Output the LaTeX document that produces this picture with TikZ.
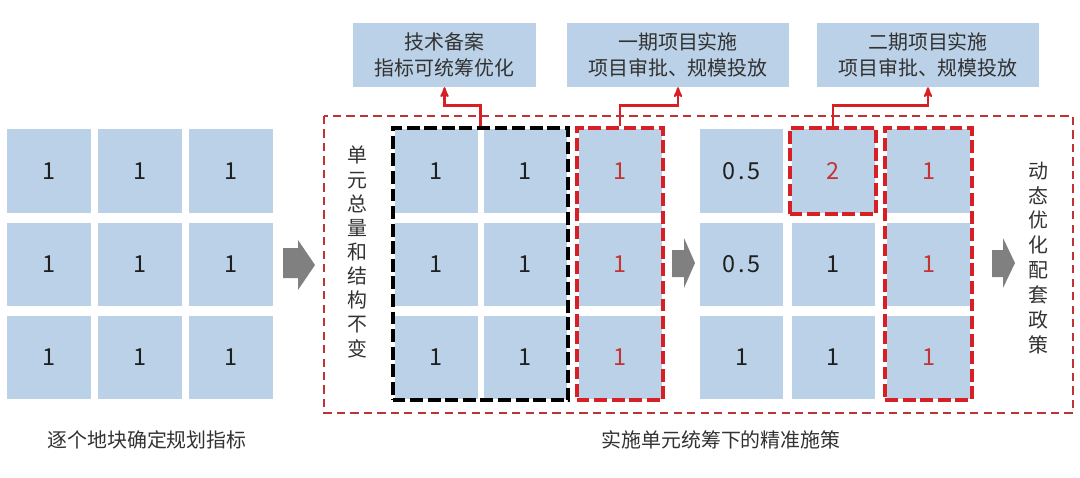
\documentclass[tikz,border=0pt]{standalone}
\usepackage{fontspec}
\setmainfont{Noto Sans CJK SC}
\usepackage{tikz}
\usetikzlibrary{arrows,fit}

\definecolor{cellblue}{RGB}{186,209,231}
\definecolor{hintred}{RGB}{214,32,38}
\definecolor{framered}{RGB}{188,52,52}
\definecolor{digitred}{RGB}{196,52,52}
\definecolor{textgray}{RGB}{50,50,50}
\definecolor{arrowgray}{RGB}{128,128,128}

\begin{document}
\begin{tikzpicture}[x=0.03cm,y=-0.03cm,node distance=2.79cm,>=stealth']
            \tikzstyle{plot}=[rectangle,fill=cellblue,minimum size=2.49cm,inner sep=0pt,text=black!88,font=\fontsize{20}{24}\selectfont]
            \tikzstyle{hot}=[plot,text=digitred]
            \tikzstyle{note}=[rectangle,fill=cellblue,minimum height=1.92cm,inner sep=0pt,align=center,text=textgray,font=\fontsize{17}{22}\selectfont]
            \tikzstyle{vtext}=[align=center,inner sep=0pt,text=textgray]
            \tikzstyle{caption}=[inner sep=0pt,text=textgray,font=\fontsize{17}{20}\selectfont]
            \tikzstyle{blackbox}=[draw=black,line width=3.5pt,dash pattern=on 11pt off 4pt,inner sep=0.05cm]
            \tikzstyle{redbox}=[blackbox,draw=hintred]
            \tikzstyle{link}=[draw=hintred,line width=1.8pt,->]
            \useasboundingbox (0,0) rectangle (1080,478);
            % left: plots one by one
            \node[plot](a11) at (49,171){1};
            \node[plot,below of=a11](a21){1};
            \node[plot,below of=a21](a31){1};
            \node[plot](a12) at (140,171){1};
            \node[plot,below of=a12](a22){1};
            \node[plot,below of=a22](a32){1};
            \node[plot](a13) at (231,171){1};
            \node[plot,below of=a13](a23){1};
            \node[plot,below of=a23](a33){1};
            \node[caption](leftcap) at (147,440){逐个地块确定规划指标};
            \fill[arrowgray] (283,248) -- (298,248) -- (298,240) -- (315,265) -- (298,290) -- (298,278) -- (283,278) -- cycle;
            % unit frame
            \draw[framered,line width=1.3pt,dash pattern=on 7pt off 4.5pt] (324,116) rectangle (1073,413);
            \node[vtext,font=\fontsize{17}{20.6}\selectfont](keep) at (357,252){单\\元\\总\\量\\和\\结\\构\\不\\变};
            % stage one
            \node[plot](b11) at (436,171){1};
            \node[plot,below of=b11](b21){1};
            \node[plot,below of=b21](b31){1};
            \node[plot](b12) at (525,171){1};
            \node[plot,below of=b12](b22){1};
            \node[plot,below of=b22](b32){1};
            \node[hot](b13) at (620,171){1};
            \node[hot,below of=b13](b23){1};
            \node[hot,below of=b23](b33){1};
            \node[blackbox,fit=(b11)(b32)](blk){};
            \node[redbox,fit=(b13)(b33)](red1){};
            \fill[arrowgray] (672,250) -- (684,250) -- (684,238) -- (695,263) -- (684,288) -- (684,277) -- (672,277) -- cycle;
            % stage two
            \node[plot](c11) at (741.5,171){0\kern2pt.\kern2pt5};
            \node[plot,below of=c11](c21){0\kern2pt.\kern2pt5};
            \node[plot,below of=c21](c31){1};
            \node[hot](c12) at (833,171){2};
            \node[plot,below of=c12](c22){1};
            \node[plot,below of=c22](c32){1};
            \node[hot](c13) at (928.5,171){1};
            \node[hot,below of=c13](c23){1};
            \node[hot,below of=c23](c33){1};
            \node[redbox,fit=(c12)](red2){};
            \node[redbox,fit=(c13)(c33)](red3){};
            \fill[arrowgray] (992,250) -- (1003,250) -- (1003,238) -- (1015,263) -- (1003,288) -- (1003,277) -- (992,277) -- cycle;
            \node[vtext,font=\fontsize{17}{21.3}\selectfont](policy) at (1038,258){动\\态\\优\\化\\配\\套\\政\\策};
            \node[caption](rightcap) at (721,440){实施单元统筹下的精准施策};
            % notes on top
            \node[note,minimum width=5.49cm](tech) at (444.5,55){技术备案\\指标可统筹优化};
            \node[note,minimum width=6.66cm](phase1) at (678,55){一期项目实施\\项目审批、规模投放};
            \node[note,minimum width=6.66cm](phase2) at (928,55){二期项目实施\\项目审批、规模投放};
            \draw[link] (blk.north) -- ++(0,-20) -| (tech.south);
            \draw[link] (red1.north) -- ++(0,-20) -| (phase1.south);
            \draw[link] (red2.north) -- ++(0,-20) -| (phase2.south);
        \end{tikzpicture}
\end{document}
